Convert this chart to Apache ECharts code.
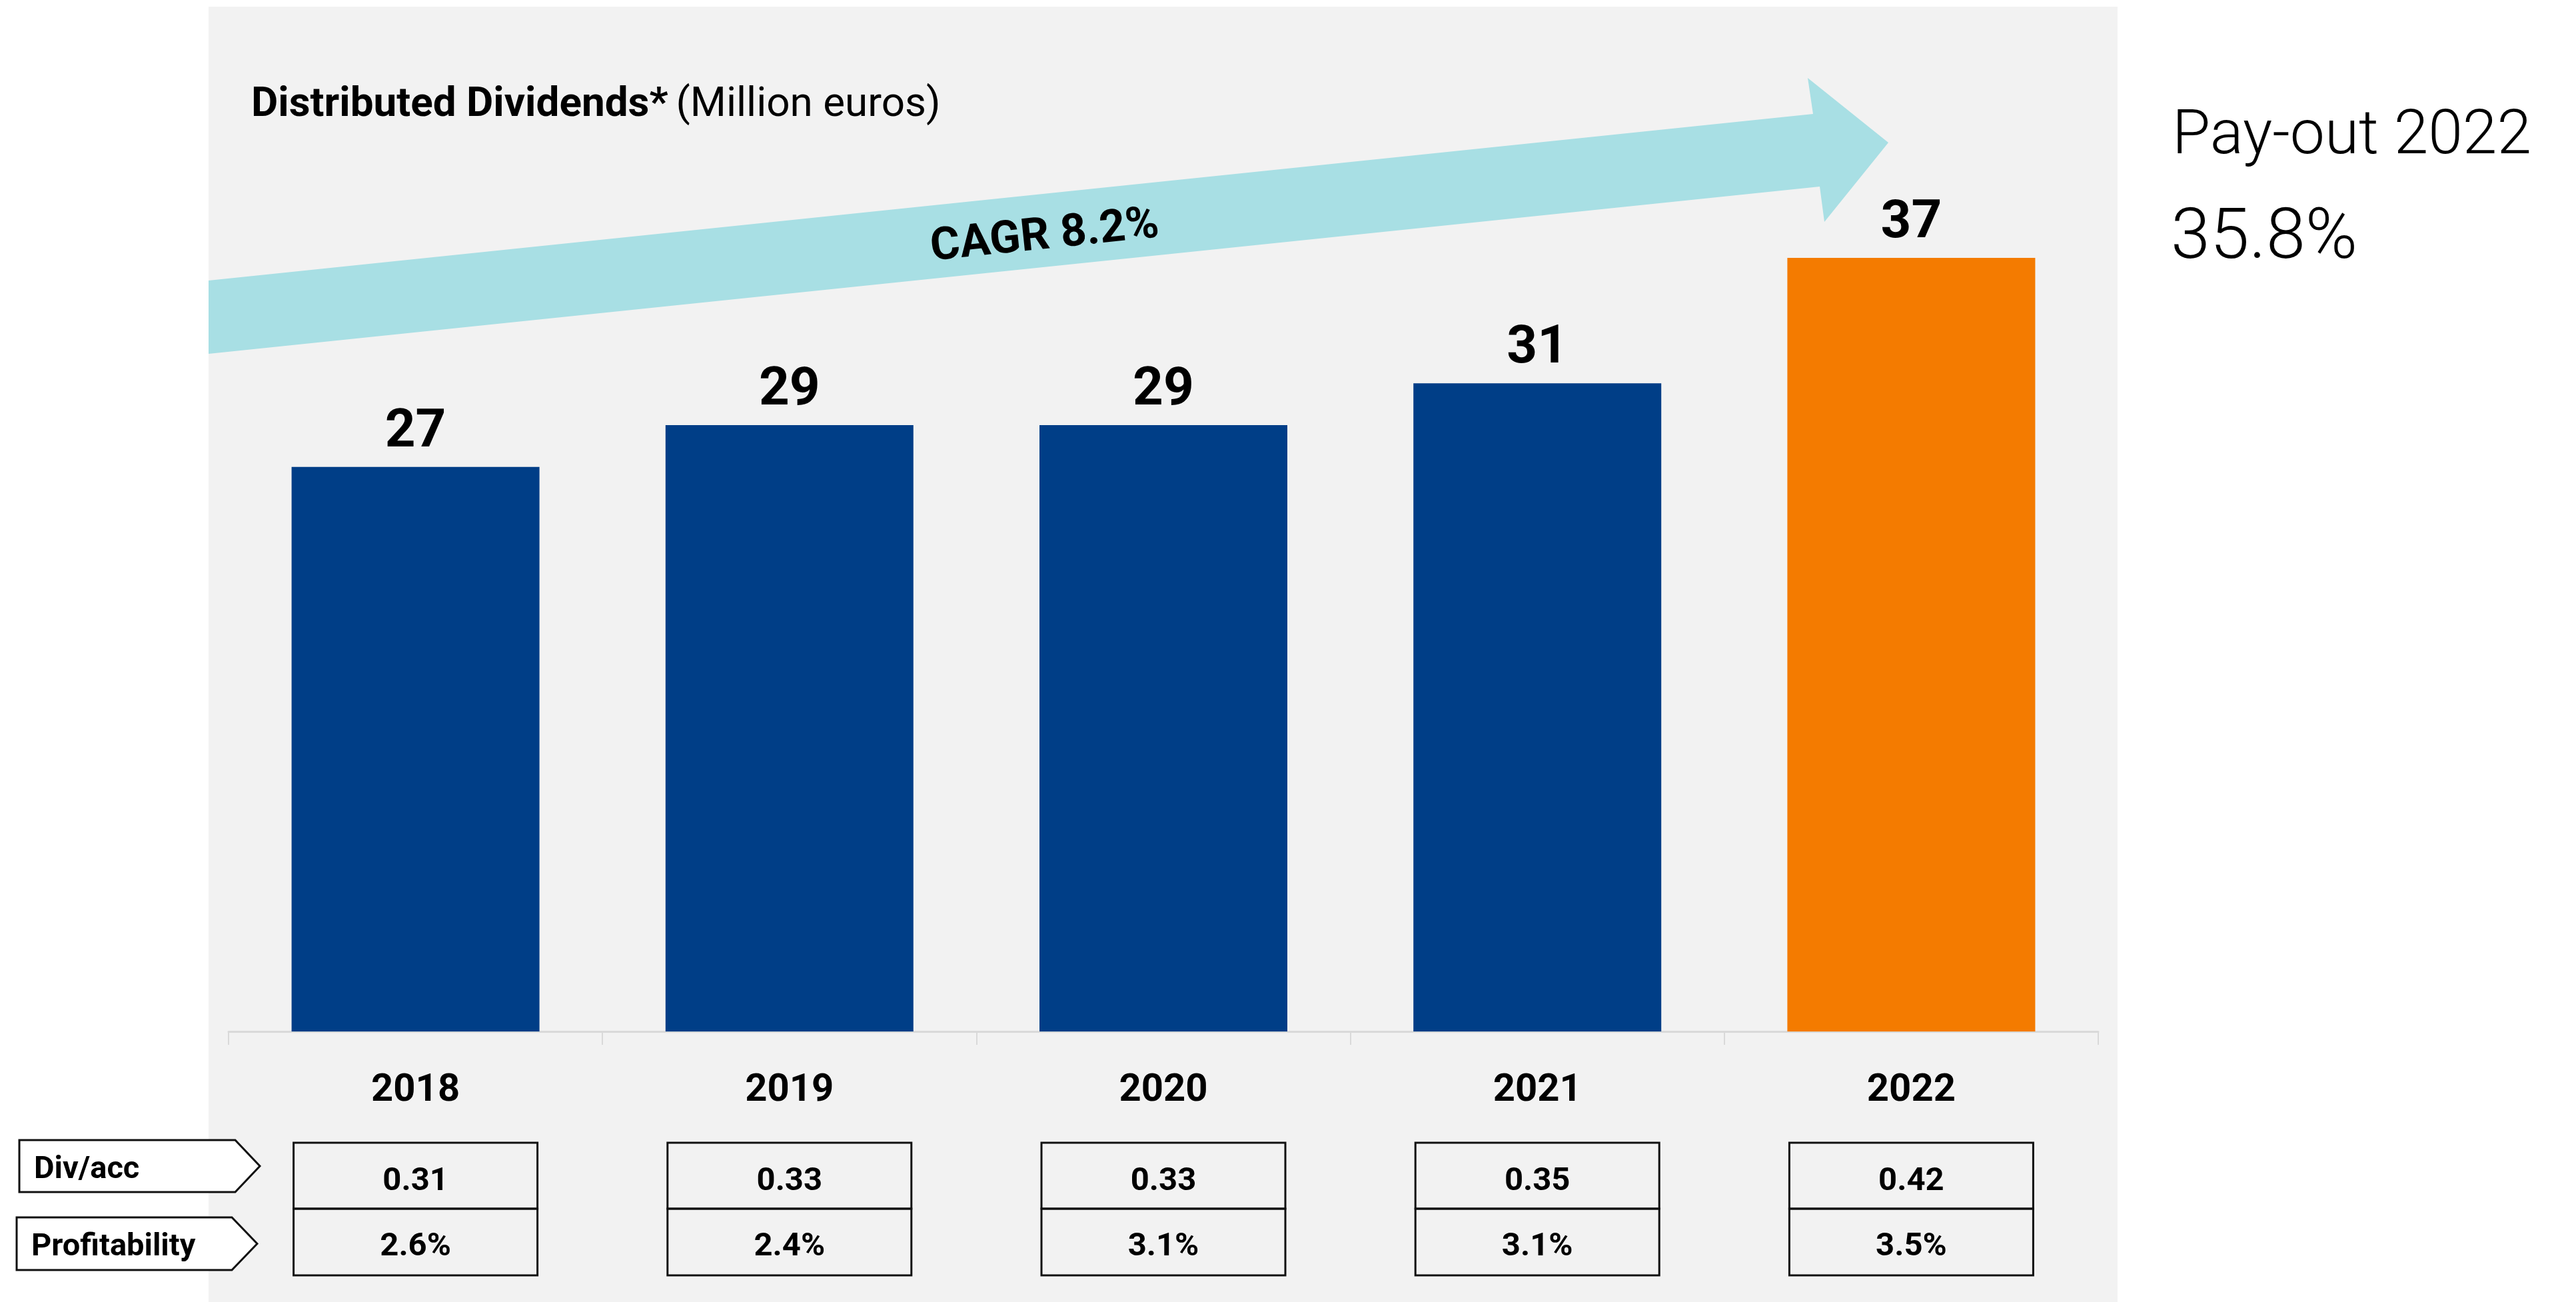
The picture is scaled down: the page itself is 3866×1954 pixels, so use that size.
<!DOCTYPE html>
<html><head><meta charset="utf-8">
<script src="https://cdn.jsdelivr.net/npm/echarts@6/dist/echarts.min.js"></script>
<style>html,body{margin:0;padding:0;background:#fff;}#c{width:3866px;height:1954px;}</style>
</head><body><div id="c"></div>
<script>
var years = ['2018','2019','2020','2021','2022'];
var dividends = [27, 29, 29, 31, 37];
var divPerShare = ['0.31','0.33','0.33','0.35','0.42'];
var profitability = ['2.6%','2.4%','3.1%','3.1%','3.5%'];
var rowLabels = ['Div/acc','Profitability'];
var cagrText = 'CAGR 8.2%';
var payoutTitle = 'Pay-out 2022';
var payoutValue = '35.8%';

var FONT = 'Roboto';
var chart = echarts.init(document.getElementById('c'), null, {renderer:'canvas'});

var base = {
  animation:false,
  backgroundColor:'#ffffff',
  textStyle:{fontFamily:FONT},
  grid:{left:343, right:3866-3149, top:136, bottom:1954-1548, containLabel:false},
  xAxis:{type:'category', data:years, boundaryGap:true,
    axisLine:{lineStyle:{color:'#d9d9d9', width:3}},
    axisTick:{show:true, length:20, lineStyle:{color:'#d9d9d9', width:2}},
    axisLabel:{fontFamily:FONT, fontWeight:'bold', fontSize:58, lineHeight:58, color:'#000', margin:60}},
  yAxis:{type:'value', min:0, max:45, show:false, splitLine:{show:false}},
  series:[{type:'bar', barWidth:372,
    data: dividends.map(function(v,i){return {value:v, itemStyle:{color: i===dividends.length-1 ? '#f47b00' : '#003e87'}};}),
    label:{show:true, position:'top', distance:11, fontFamily:FONT, fontWeight:'bold', fontSize:80, color:'#000'},
    z:5}]
};
chart.setOption(base);

var g = [];
g.push({type:'rect', z:-10, silent:true, shape:{x:313,y:10,width:3178-313,height:1954-10}, style:{fill:'#f2f2f2'}});
g.push({type:'polygon', z:1, shape:{points:[[313,421],[2721,171],[2713,117],[2834,214],[2738,333],[2731,280],[313,531]]}, style:{fill:'#a8dfe4'}});
g.push({type:'text', z:2, x:1568, y:356, rotation:5.93*Math.PI/180,
  style:{text:cagrText, font:'bold 68px '+FONT, fill:'#000', textAlign:'center', textVerticalAlign:'middle'}});
g.push({type:'text', z:3, x:377, y:158, style:{rich:{b:{font:'bold 62px '+FONT, fill:'#000', padding:[0,12,0,0]}, n:{font:'normal 62px '+FONT, fill:'#000'}}, text:'{b|Distributed Dividends*}{n|(Million euros)}', textVerticalAlign:'middle', fill:'#000'}});
g.push({type:'text', x:3260, y:207, style:{text:payoutTitle, font:'300 93px '+FONT, fill:'#000', textVerticalAlign:'middle'}});
g.push({type:'text', x:3258, y:360, style:{text:payoutValue, font:'300 106px '+FONT, fill:'#000', textVerticalAlign:'middle'}});
var tags = [{x0:29,x1:353,tip:390,y0:1711,y1:1789},{x0:25,x1:348,tip:386,y0:1827,y1:1906}];
rowLabels.forEach(function(t,i){
  var k = tags[i], ym=(k.y0+k.y1)/2;
  g.push({type:'polygon', shape:{points:[[k.x0,k.y0],[k.x1,k.y0],[k.tip,ym],[k.x1,k.y1],[k.x0,k.y1]]}, style:{fill:'#fff', stroke:'#111', lineWidth:3}});
  g.push({type:'text', x:k.x0+22, y:ym+6, style:{text:t, font:'bold 47px '+FONT, fill:'#000', textVerticalAlign:'middle'}});
});
var bw = 366, r0 = 1715, r1 = 1814, r2 = 1914;
years.forEach(function(y,i){
  var cx = chart.convertToPixel({xAxisIndex:0}, y);
  var x0 = cx - bw/2;
  g.push({type:'rect', shape:{x:x0,y:r0,width:bw,height:r1-r0}, style:{fill:'none', stroke:'#111', lineWidth:3}});
  g.push({type:'rect', shape:{x:x0,y:r1,width:bw,height:r2-r1}, style:{fill:'none', stroke:'#111', lineWidth:3}});
  g.push({type:'text', x:cx, y:(r0+r1)/2+9, style:{text:divPerShare[i], font:'bold 49px '+FONT, fill:'#000', textAlign:'center', textVerticalAlign:'middle'}});
  g.push({type:'text', x:cx, y:(r1+r2)/2+8, style:{text:profitability[i], font:'bold 49px '+FONT, fill:'#000', textAlign:'center', textVerticalAlign:'middle'}});
});
chart.setOption({graphic:g});
</script></body></html>
